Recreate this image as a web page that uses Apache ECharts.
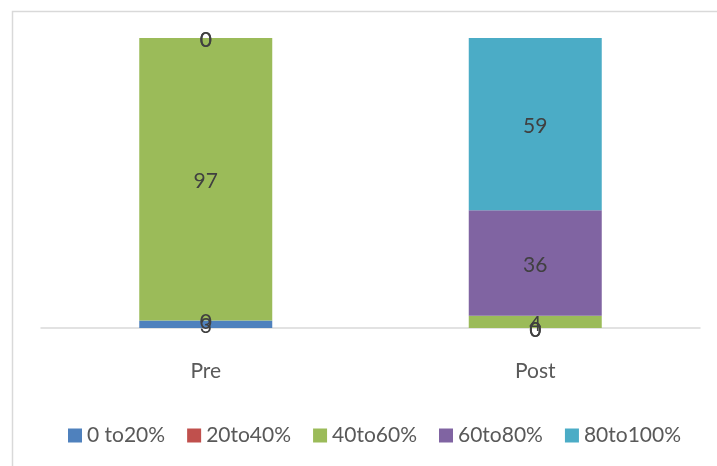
<!DOCTYPE html>
<html>
<head>
<meta charset="utf-8">
<script src="https://cdn.jsdelivr.net/npm/echarts@6/dist/echarts.min.js"></script>
<style>html,body{margin:0;padding:0;background:#fff;}#c{width:717px;height:466px;}</style>
</head>
<body>
<div id="c"></div>
<script>
var categories = ['Pre', 'Post'];
var seriesNames = ['0 to20%', '20to40%', '40to60%', '60to80%', '80to100%'];
var s0to20 = [2.6, 0];
var s20to40 = [0, 0];
var s40to60 = [97.4, 4.2];
var s60to80 = [0, 36.4];
var s80to100 = [0, 59.4];
var colors = ['#4f81bd', '#c0504d', '#9bbb59', '#8064a2', '#4bacc6'];
var allData = [s0to20, s20to40, s40to60, s60to80, s80to100];
var FONT = 'Lato';
var chart = echarts.init(document.getElementById('c'));
chart.setOption({
  animation: false,
  textStyle: {fontFamily: FONT},
  graphic: [{type: 'rect', left: 10, top: 9, shape: {width: 740, height: 480}, style: {fill: 'none', stroke: '#d9d9d9', lineWidth: 1.5}, silent: true}],
  grid: {left: 41, right: 17, top: 38, bottom: 138},
  legend: {
    top: 425, left: 68, itemWidth: 14, itemHeight: 14, itemGap: 22,
    padding: 0,
    icon: 'rect',
    textStyle: {fontFamily: FONT, fontSize: 21, color: '#595959'},
    data: seriesNames
  },
  xAxis: {
    type: 'category', data: categories,
    axisLine: {lineStyle: {color: '#d9d9d9', width: 1.5}},
    axisTick: {show: false},
    axisLabel: {fontFamily: FONT, fontSize: 21, color: '#595959', margin: 33}
  },
  yAxis: {type: 'value', min: 0, max: 100, show: false, splitLine: {show: false}},
  series: seriesNames.map(function (n, i) {
    return {
      name: n, type: 'bar', stack: 'total', barWidth: 133,
      itemStyle: {color: colors[i]},
      label: {show: true, position: 'inside', fontFamily: FONT, fontSize: 21, color: '#404040',
        offset: [0, 2],
        formatter: function (p) { return Math.round(p.value); }},
      data: allData[i]
    };
  })
});
</script>
</body>
</html>
